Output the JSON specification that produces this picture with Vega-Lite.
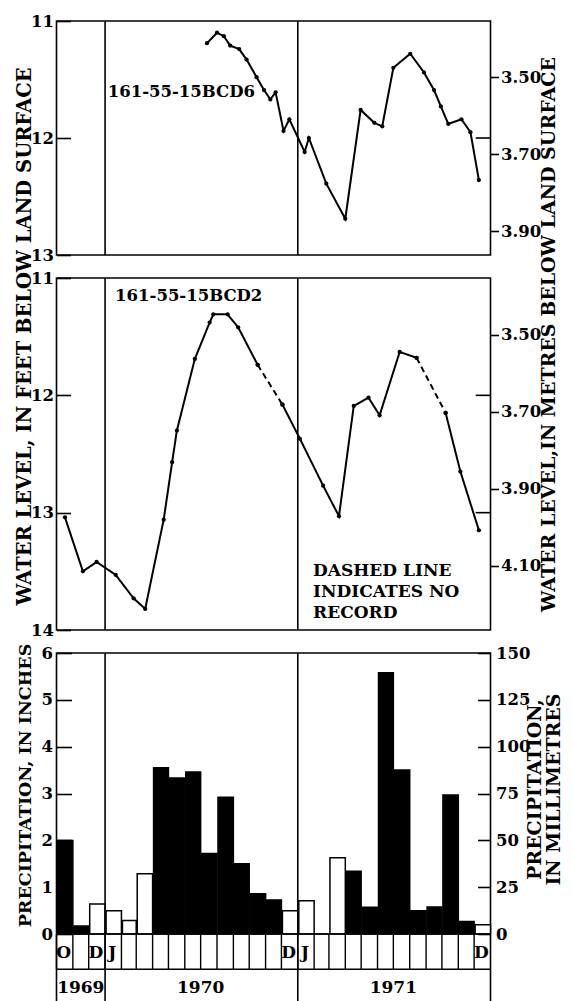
{
  "$schema": "https://vega.github.io/schema/vega-lite/v6.json",
  "background": "white",
  "padding": {"left": 13.5, "top": 12, "right": 0, "bottom": 0},
  "bounds": "flush",
  "spacing": 23,
  "config": {
    "font": "DejaVu Serif",
    "view": {"stroke": "black", "strokeWidth": 1.6},
    "axis": {
      "domain": false,
      "grid": false,
      "labelFont": "DejaVu Serif",
      "labelFontWeight": "bold",
      "labelFontSize": 16.5,
      "labelColor": "black",
      "labelOverlap": false,
      "labelBound": false,
      "titleFont": "DejaVu Serif",
      "titleFontWeight": "bold",
      "titleFontSize": 19,
      "titleColor": "black",
      "tickColor": "black",
      "tickWidth": 1.6
    },
    "text": {"font": "DejaVu Serif", "fontWeight": "bold", "color": "black"}
  },
  "datasets": {
    "yearStarts": [{"date": "1970-01-01"}, {"date": "1971-01-01"}],
    "bcd6": [
      {"date": "1970-07-13", "level": 11.19},
      {"date": "1970-08-01", "level": 11.10},
      {"date": "1970-08-14", "level": 11.13},
      {"date": "1970-08-26", "level": 11.21},
      {"date": "1970-09-12", "level": 11.24},
      {"date": "1970-09-26", "level": 11.33},
      {"date": "1970-10-15", "level": 11.48},
      {"date": "1970-10-29", "level": 11.59},
      {"date": "1970-11-10", "level": 11.67},
      {"date": "1970-11-20", "level": 11.61},
      {"date": "1970-12-05", "level": 11.94},
      {"date": "1970-12-16", "level": 11.84},
      {"date": "1971-01-14", "level": 12.12},
      {"date": "1971-01-22", "level": 12.00},
      {"date": "1971-02-24", "level": 12.39},
      {"date": "1971-04-01", "level": 12.69},
      {"date": "1971-04-30", "level": 11.76},
      {"date": "1971-05-26", "level": 11.87},
      {"date": "1971-06-10", "level": 11.90},
      {"date": "1971-07-01", "level": 11.40},
      {"date": "1971-08-02", "level": 11.28},
      {"date": "1971-08-28", "level": 11.44},
      {"date": "1971-09-16", "level": 11.59},
      {"date": "1971-09-29", "level": 11.73},
      {"date": "1971-10-13", "level": 11.88},
      {"date": "1971-11-07", "level": 11.84},
      {"date": "1971-11-24", "level": 11.95},
      {"date": "1971-12-10", "level": 12.36}
    ],
    "bcd2": [
      {"date": "1969-10-17", "level": 13.04, "segment": 1, "record": "measured"},
      {"date": "1969-11-20", "level": 13.50, "segment": 1, "record": "measured"},
      {"date": "1969-12-16", "level": 13.42, "segment": 1, "record": "measured"},
      {"date": "1970-01-21", "level": 13.53, "segment": 1, "record": "measured"},
      {"date": "1970-02-24", "level": 13.73, "segment": 1, "record": "measured"},
      {"date": "1970-03-18", "level": 13.82, "segment": 1, "record": "measured"},
      {"date": "1970-04-22", "level": 13.06, "segment": 1, "record": "measured"},
      {"date": "1970-05-08", "level": 12.57, "segment": 1, "record": "measured"},
      {"date": "1970-05-17", "level": 12.30, "segment": 1, "record": "measured"},
      {"date": "1970-06-20", "level": 11.69, "segment": 1, "record": "measured"},
      {"date": "1970-07-18", "level": 11.38, "segment": 1, "record": "measured"},
      {"date": "1970-07-25", "level": 11.31, "segment": 1, "record": "measured"},
      {"date": "1970-08-21", "level": 11.31, "segment": 1, "record": "measured"},
      {"date": "1970-09-10", "level": 11.42, "segment": 1, "record": "measured"},
      {"date": "1970-10-17", "level": 11.74, "segment": 1, "record": "measured"},
      {"date": "1970-10-17", "level": 11.74, "segment": 2, "record": "no record"},
      {"date": "1970-12-03", "level": 12.08, "segment": 2, "record": "no record"},
      {"date": "1970-12-03", "level": 12.08, "segment": 3, "record": "measured"},
      {"date": "1971-01-05", "level": 12.37, "segment": 3, "record": "measured"},
      {"date": "1971-02-18", "level": 12.77, "segment": 3, "record": "measured"},
      {"date": "1971-03-20", "level": 13.03, "segment": 3, "record": "measured"},
      {"date": "1971-04-17", "level": 12.09, "segment": 3, "record": "measured"},
      {"date": "1971-05-15", "level": 12.02, "segment": 3, "record": "measured"},
      {"date": "1971-06-05", "level": 12.17, "segment": 3, "record": "measured"},
      {"date": "1971-07-13", "level": 11.63, "segment": 3, "record": "measured"},
      {"date": "1971-08-14", "level": 11.68, "segment": 3, "record": "measured"},
      {"date": "1971-08-14", "level": 11.68, "segment": 4, "record": "no record"},
      {"date": "1971-10-08", "level": 12.15, "segment": 4, "record": "no record"},
      {"date": "1971-10-08", "level": 12.15, "segment": 5, "record": "measured"},
      {"date": "1971-11-05", "level": 12.65, "segment": 5, "record": "measured"},
      {"date": "1971-12-10", "level": 13.15, "segment": 5, "record": "measured"}
    ],
    "precip": [
      {"month": "1969-10-01", "inches": 2.00, "form": "rain"},
      {"month": "1969-11-01", "inches": 0.17, "form": "rain"},
      {"month": "1969-12-01", "inches": 0.64, "form": "snow"},
      {"month": "1970-01-01", "inches": 0.50, "form": "snow"},
      {"month": "1970-02-01", "inches": 0.29, "form": "snow"},
      {"month": "1970-03-01", "inches": 1.29, "form": "snow"},
      {"month": "1970-04-01", "inches": 3.55, "form": "rain"},
      {"month": "1970-05-01", "inches": 3.33, "form": "rain"},
      {"month": "1970-06-01", "inches": 3.46, "form": "rain"},
      {"month": "1970-07-01", "inches": 1.72, "form": "rain"},
      {"month": "1970-08-01", "inches": 2.92, "form": "rain"},
      {"month": "1970-09-01", "inches": 1.50, "form": "rain"},
      {"month": "1970-10-01", "inches": 0.86, "form": "rain"},
      {"month": "1970-11-01", "inches": 0.73, "form": "rain"},
      {"month": "1970-12-01", "inches": 0.50, "form": "snow"},
      {"month": "1971-01-01", "inches": 0.71, "form": "snow"},
      {"month": "1971-02-01", "inches": 0.00, "form": "snow"},
      {"month": "1971-03-01", "inches": 1.63, "form": "snow"},
      {"month": "1971-04-01", "inches": 1.34, "form": "rain"},
      {"month": "1971-05-01", "inches": 0.57, "form": "rain"},
      {"month": "1971-06-01", "inches": 5.58, "form": "rain"},
      {"month": "1971-07-01", "inches": 3.50, "form": "rain"},
      {"month": "1971-08-01", "inches": 0.50, "form": "rain"},
      {"month": "1971-09-01", "inches": 0.58, "form": "rain"},
      {"month": "1971-10-01", "inches": 2.97, "form": "rain"},
      {"month": "1971-11-01", "inches": 0.27, "form": "rain"},
      {"month": "1971-12-01", "inches": 0.20, "form": "snow"}
    ],
    "monthLetters": [
      {"month": "1969-10-01", "letter": "O"},
      {"month": "1969-12-01", "letter": "D"},
      {"month": "1970-01-01", "letter": "J"},
      {"month": "1970-12-01", "letter": "D"},
      {"month": "1971-01-01", "letter": "J"},
      {"month": "1971-12-01", "letter": "D"}
    ],
    "innerTicksTop": [{"ft": 12}],
    "innerTicksMid": [{"ft": 12}, {"ft": 13}]
  },
  "vconcat": [
    {
      "width": 434,
      "height": 234,
      "layer": [
        {
          "data": {"name": "yearStarts"},
          "mark": {"type": "rule", "color": "black", "strokeWidth": 1.6},
          "encoding": {
            "x": {
              "field": "date", "type": "temporal",
              "scale": {"type": "utc", "domain": [{"year": 1969, "month": 10, "date": 1, "utc": true}, {"year": 1972, "month": 1, "date": 1, "utc": true}]},
              "axis": {"orient": "top", "tickCount": {"interval": "month", "step": 1}, "offset": -11, "tickSize": 11, "labels": false, "title": null}
            }
          }
        },
        {
          "data": {"name": "bcd6"},
          "mark": {"type": "line", "color": "black", "strokeWidth": 2},
          "encoding": {
            "x": {"field": "date", "type": "temporal", "axis": null},
            "y": {
              "field": "level", "type": "quantitative",
              "scale": {"domain": [11, 13], "reverse": true, "nice": false, "zero": false},
              "axis": {
                "orient": "left", "values": [11, 12, 13],
                "labelExpr": "format(datum.value, 'd')",
                "labelOverlap": false, "labelFlush": false,
                "offset": -14, "tickSize": 14, "labelPadding": 3, "title": null
              }
            }
          }
        },
        {
          "data": {"name": "bcd6"},
          "mark": {"type": "circle", "color": "black", "size": 18, "opacity": 1},
          "encoding": {
            "x": {"field": "date", "type": "temporal", "axis": null},
            "y": {"field": "level", "type": "quantitative", "axis": null}
          }
        },
        {
          "data": {"name": "innerTicksTop"},
          "mark": {"type": "rule", "color": "black", "strokeWidth": 1.6},
          "encoding": {
            "x": {"datum": {"year": 1971, "month": 12, "date": 4, "utc": true}, "type": "temporal", "axis": null},
            "x2": {"datum": {"year": 1972, "month": 1, "date": 1, "utc": true}},
            "y": {"field": "ft", "type": "quantitative", "axis": null}
          }
        },
        {
          "data": {"values": [{}]},
          "mark": {"type": "text", "align": "left", "baseline": "middle", "fontSize": 16.5},
          "encoding": {
            "x": {"datum": {"year": 1970, "month": 1, "date": 6, "utc": true}, "type": "temporal", "axis": null},
            "y": {"datum": 11.61, "type": "quantitative", "axis": null},
            "text": {"value": "161-55-15BCD6"}
          }
        },
        {
          "data": {"values": [{}]},
          "mark": {"type": "rule", "strokeOpacity": 0},
          "encoding": {
            "y": {
              "datum": 12, "type": "quantitative",
              "axis": {
                "orient": "right", "values": [11.4829, 12.1391, 12.7953],
                "labelExpr": "format(datum.value * 0.3048, '.2f')",
                "tickSize": 8, "labelPadding": 2, "title": null
              }
            }
          }
        }
      ],
      "resolve": {"axis": {"y": "independent"}}
    },
    {
      "width": 434,
      "height": 352,
      "layer": [
        {
          "data": {"name": "yearStarts"},
          "mark": {"type": "rule", "color": "black", "strokeWidth": 1.6},
          "encoding": {
            "x": {
              "field": "date", "type": "temporal",
              "scale": {"type": "utc", "domain": [{"year": 1969, "month": 10, "date": 1, "utc": true}, {"year": 1972, "month": 1, "date": 1, "utc": true}]},
              "axis": null
            }
          }
        },
        {
          "data": {"name": "bcd2"},
          "mark": {"type": "line", "color": "black", "strokeWidth": 2},
          "encoding": {
            "x": {"field": "date", "type": "temporal", "axis": null},
            "y": {
              "field": "level", "type": "quantitative",
              "scale": {"domain": [11, 14], "reverse": true, "nice": false, "zero": false},
              "axis": {
                "orient": "left", "values": [11, 12, 13, 14],
                "labelExpr": "format(datum.value, 'd')",
                "offset": -14, "tickSize": 14, "labelPadding": 3,
                "title": "WATER LEVEL, IN FEET BELOW LAND SURFACE",
                "titleFontSize": 19.5,
                "titleAngle": 270, "titleAlign": "center", "titleBaseline": "alphabetic",
                "titleX": -40, "titleY": 58
              }
            },
            "detail": {"field": "segment", "type": "nominal"},
            "strokeDash": {
              "field": "record", "type": "nominal",
              "scale": {"domain": ["measured", "no record"], "range": [[1, 0], [6, 4]]},
              "legend": null
            }
          }
        },
        {
          "data": {"name": "bcd2"},
          "mark": {"type": "circle", "color": "black", "size": 18, "opacity": 1},
          "encoding": {
            "x": {"field": "date", "type": "temporal", "axis": null},
            "y": {"field": "level", "type": "quantitative", "axis": null}
          }
        },
        {
          "data": {"name": "innerTicksMid"},
          "mark": {"type": "rule", "color": "black", "strokeWidth": 1.6},
          "encoding": {
            "x": {"datum": {"year": 1971, "month": 12, "date": 4, "utc": true}, "type": "temporal", "axis": null},
            "x2": {"datum": {"year": 1972, "month": 1, "date": 1, "utc": true}},
            "y": {"field": "ft", "type": "quantitative", "axis": null}
          }
        },
        {
          "data": {"values": [{}]},
          "mark": {"type": "text", "align": "left", "baseline": "middle", "fontSize": 16.5},
          "encoding": {
            "x": {"datum": {"year": 1970, "month": 1, "date": 20, "utc": true}, "type": "temporal", "axis": null},
            "y": {"datum": 11.155, "type": "quantitative", "axis": null},
            "text": {"value": "161-55-15BCD2"}
          }
        },
        {
          "data": {"values": [{}]},
          "mark": {"type": "text", "align": "left", "baseline": "middle", "fontSize": 17, "lineBreak": "\n", "lineHeight": 21},
          "encoding": {
            "x": {"datum": {"year": 1971, "month": 1, "date": 30, "utc": true}, "type": "temporal", "axis": null},
            "y": {"datum": 13.5, "type": "quantitative", "axis": null},
            "text": {"value": "DASHED LINE\nINDICATES NO\nRECORD"}
          }
        },
        {
          "data": {"values": [{}]},
          "mark": {"type": "rule", "strokeOpacity": 0},
          "encoding": {
            "y": {
              "datum": 12, "type": "quantitative",
              "axis": {
                "orient": "right", "values": [11.4829, 12.1391, 12.7953, 13.4514],
                "labelExpr": "format(datum.value * 0.3048, '.2f')",
                "tickSize": 8, "labelPadding": 2,
                "title": "WATER LEVEL,IN METRES BELOW LAND SURFACE",
                "titleAngle": 270, "titleAlign": "center", "titleBaseline": "alphabetic",
                "titleX": 64, "titleY": 56
              }
            }
          }
        }
      ],
      "resolve": {"axis": {"y": "independent"}}
    },
    {
      "width": 434,
      "height": 349,
      "layer": [
        {
          "data": {"name": "precip"},
          "mark": {"type": "bar", "stroke": "black", "strokeWidth": 1.5},
          "encoding": {
            "x": {
              "field": "month", "timeUnit": "utcyearmonth", "type": "temporal",
              "scale": {"type": "utc", "domain": [{"year": 1969, "month": 10, "date": 1, "utc": true}, {"year": 1972, "month": 1, "date": 1, "utc": true}]},
              "axis": null
            },
            "y": {
              "field": "inches", "type": "quantitative",
              "scale": {"domain": [-1.45, 6], "nice": false, "zero": false},
              "axis": {
                "orient": "left", "values": [0, 1, 2, 3, 4, 5, 6],
                "labelExpr": "format(datum.value, 'd')",
                "offset": -15, "tickSize": 15, "labelPadding": 4,
                "title": "PRECIPITATION, IN INCHES",
                "titleFontSize": 17.5,
                "titleAngle": 270, "titleAlign": "center", "titleBaseline": "alphabetic",
                "titleX": -41, "titleY": 132
              }
            },
            "y2": {"datum": 0},
            "color": {
              "field": "form", "type": "nominal",
              "scale": {"domain": ["rain", "snow"], "range": ["black", "white"]},
              "legend": null
            }
          }
        },
        {
          "data": {"name": "precip"},
          "mark": {"type": "rule", "color": "black", "strokeWidth": 1.4},
          "encoding": {
            "x": {"field": "month", "timeUnit": "utcyearmonth", "type": "temporal", "bandPosition": 0, "axis": null},
            "y": {"datum": 0, "type": "quantitative", "axis": null},
            "y2": {"datum": -0.75}
          }
        },
        {
          "data": {"values": [{"edge": 0}, {"edge": -0.75}]},
          "mark": {"type": "rule", "color": "black", "strokeWidth": 1.6},
          "encoding": {
            "y": {"field": "edge", "type": "quantitative", "axis": null}
          }
        },
        {
          "data": {"name": "yearStarts"},
          "mark": {"type": "rule", "color": "black", "strokeWidth": 1.6},
          "encoding": {
            "x": {"field": "date", "type": "temporal", "axis": null}
          }
        },
        {
          "data": {"name": "monthLetters"},
          "mark": {"type": "text", "align": "center", "baseline": "middle", "fontSize": 17, "dx": -1},
          "encoding": {
            "x": {"field": "month", "timeUnit": "utcyearmonth", "type": "temporal", "bandPosition": 0.5, "axis": null},
            "y": {"datum": -0.4, "type": "quantitative", "axis": null},
            "text": {"field": "letter"}
          }
        },
        {
          "data": {"values": [{}]},
          "mark": {"type": "text", "align": "center", "baseline": "middle", "fontSize": 17},
          "encoding": {
            "x": {"datum": {"year": 1969, "month": 11, "date": 16, "utc": true}, "type": "temporal", "axis": null},
            "y": {"datum": -1.16, "type": "quantitative", "axis": null},
            "text": {"value": "1969"}
          }
        },
        {
          "data": {"values": [{}]},
          "mark": {"type": "text", "align": "center", "baseline": "middle", "fontSize": 17},
          "encoding": {
            "x": {"datum": {"year": 1970, "month": 7, "date": 1, "utc": true}, "type": "temporal", "axis": null},
            "y": {"datum": -1.16, "type": "quantitative", "axis": null},
            "text": {"value": "1970"}
          }
        },
        {
          "data": {"values": [{}]},
          "mark": {"type": "text", "align": "center", "baseline": "middle", "fontSize": 17},
          "encoding": {
            "x": {"datum": {"year": 1971, "month": 7, "date": 1, "utc": true}, "type": "temporal", "axis": null},
            "y": {"datum": -1.16, "type": "quantitative", "axis": null},
            "text": {"value": "1971"}
          }
        },
        {
          "data": {"values": [{}]},
          "mark": {"type": "rule", "strokeOpacity": 0},
          "encoding": {
            "y": {
              "datum": 0, "type": "quantitative",
              "axis": {
                "orient": "right", "values": [0, 1, 2, 3, 4, 5, 6],
                "labelExpr": "format(datum.value * 25, 'd')",
                "offset": -13, "tickSize": 13, "labelPadding": 5,
                "title": ["PRECIPITATION,", "IN MILLIMETRES"],
                "titleAngle": 270, "titleAlign": "center", "titleBaseline": "alphabetic",
                "titleLineHeight": 19, "titleX": 63, "titleY": 136
              }
            }
          }
        }
      ],
      "resolve": {"axis": {"y": "independent"}}
    }
  ]
}
